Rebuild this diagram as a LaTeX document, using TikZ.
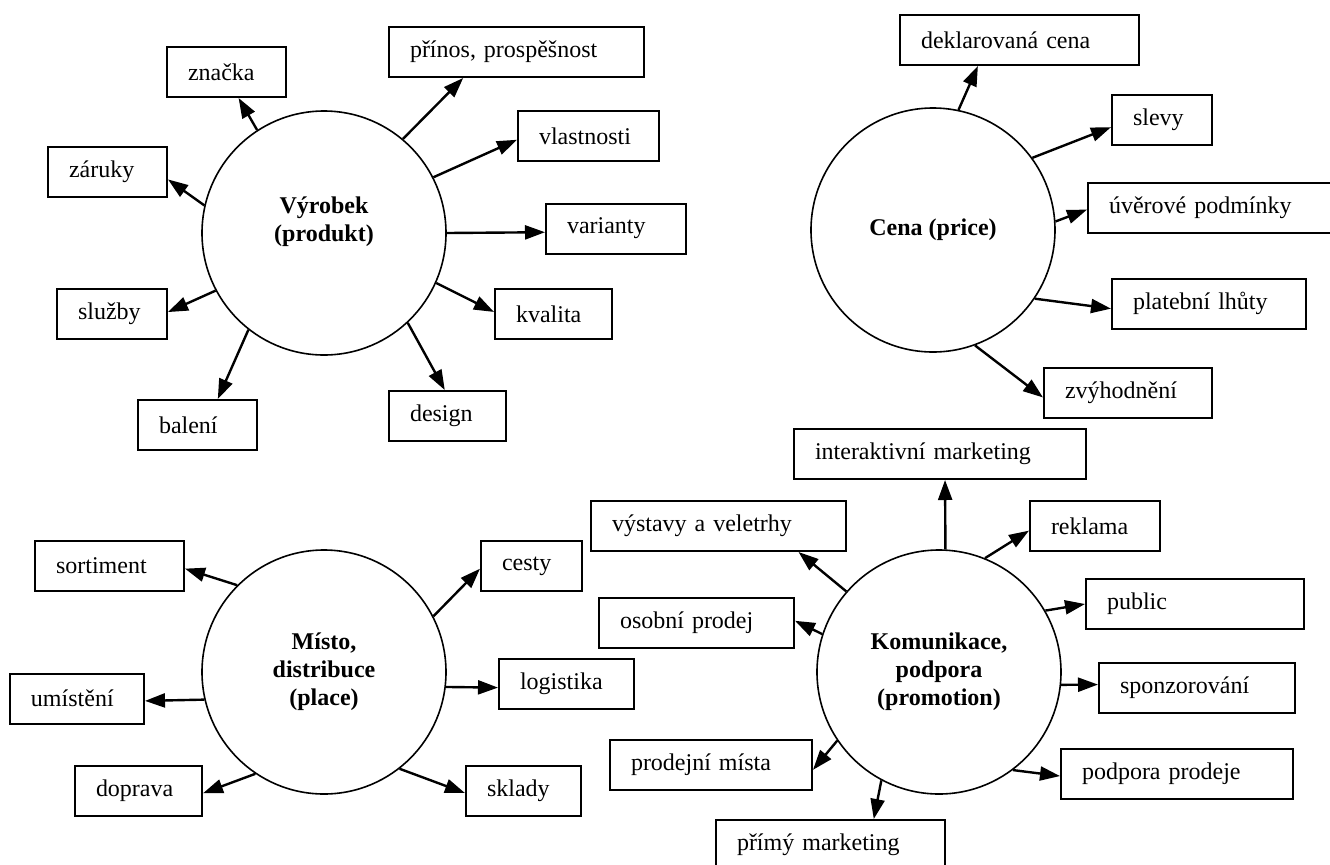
\documentclass[tikz,border=0pt]{standalone}
\usepackage{fontspec}
\setmainfont{Liberation Serif}
\usepackage{tikz}
\usetikzlibrary{arrows.meta}
\tikzset{
    mixnode/.style={circle, draw, line width=0.8pt, minimum size=122pt, inner sep=0pt, align=center, font=\fontsize{12}{14}\selectfont\bfseries},
    mixtext/.style={inner sep=0pt, align=center, font=\fontsize{12}{14}\selectfont\bfseries},
    itemnode/.style={rectangle, draw, line width=1pt, minimum height=25pt, inner xsep=10.5pt, inner ysep=2pt, align=left, font=\fontsize{12}{14}\selectfont},
    mixarrow/.style={-{Triangle[length=10pt, width=7pt]}, line width=1.2pt}
}

\begin{document}
\begin{tikzpicture}[x=0.5pt, y=-0.5pt]
                    \useasboundingbox (0,0) rectangle (1330,864);

                    \node[mixnode] (vyrobek) at (324,233) {};
                    \node[mixtext] (vyrobektext) at (324,222) {Výrobek\\(produkt)};
                    \node[mixnode] (cena) at (933,230) {Cena (price)};
                    \node[mixnode] (misto) at (324,672) {Místo,\\distribuce\\(place)};
                    \node[mixnode] (komunikace) at (939,672) {Komunikace,\\podpora\\(promotion)};

                    \node[itemnode, text width=38.5pt] (znacka) at (226.5,72) {značka};
                    \node[itemnode, text width=106.5pt] (prinos) at (516.5,52) {přínos, prospěšnost};
                    \node[itemnode, text width=49.5pt] (vlastnosti) at (588.5,136) {vlastnosti};
                    \node[itemnode, text width=38.5pt] (zaruky) at (107.5,172) {záruky};
                    \node[itemnode, text width=49pt] (varianty) at (616,228.5) {varianty};
                    \node[itemnode, text width=37.5pt] (kvalita) at (553.5,314) {kvalita};
                    \node[itemnode, text width=34pt] (sluzby) at (112,314) {služby};
                    \node[itemnode, text width=38.5pt] (baleni) at (197.5,425) {balení};
                    \node[itemnode, text width=37.5pt] (design) at (447.5,416) {design};

                    \node[itemnode, text width=98.5pt] (deklarovana) at (1019.5,40) {deklarovaná cena};
                    \node[itemnode, text width=29pt] (slevy) at (1162,120) {slevy};
                    \node[itemnode, text width=101.5pt] (uverove) at (1210.5,207.5) {úvěrové podmínky};
                    \node[itemnode, text width=76pt] (platebni) at (1209,303.5) {platební lhůty};
                    \node[itemnode, text width=63pt] (zvyhodneni) at (1128,393) {zvýhodnění};

                    \node[itemnode, text width=53.5pt] (sortiment) at (109.5,566) {sortiment};
                    \node[itemnode, text width=46pt] (umisteni) at (77,698.5) {umístění};
                    \node[itemnode, text width=42.5pt] (doprava) at (138.5,791) {doprava};
                    \node[itemnode, text width=29.5pt] (cesty) at (531.5,566) {cesty};
                    \node[itemnode, text width=46.5pt] (logistika) at (566.5,684) {logistika};
                    \node[itemnode, text width=36.5pt] (sklady) at (523.5,791) {sklady};

                    \node[itemnode, text width=125pt] (interaktivni) at (940,454) {interaktivní marketing};
                    \node[itemnode, text width=106.5pt] (vystavy) at (718.5,526) {výstavy a veletrhy};
                    \node[itemnode, text width=44pt] (reklama) at (1095,526) {reklama};
                    \node[itemnode, text width=88pt] (public) at (1195,604) {public};
                    \node[itemnode, text width=76.5pt] (osobni) at (696.5,622.5) {osobní prodej};
                    \node[itemnode, text width=77pt] (sponzorovani) at (1197,688) {sponzorování};
                    \node[itemnode, text width=80pt] (prodejni) at (711,764.5) {prodejní místa};
                    \node[itemnode, text width=95pt] (podpora) at (1177,774) {podpora prodeje};
                    \node[itemnode, text width=93.5pt] (primy) at (830.5,845) {přímý marketing};

                    \draw[mixarrow] (vyrobek.123) -- (znacka.-65);
                    \draw[mixarrow] (vyrobek.50) -- (prinos.206);
                    \draw[mixarrow] (vyrobek.27) -- (vlastnosti.183);
                    \draw[mixarrow] (vyrobek.167) -- (zaruky.-7);
                    \draw[mixarrow] (vyrobek.0) -- (varianty.183);
                    \draw[mixarrow] (vyrobek.-24) -- (kvalita.178);
                    \draw[mixarrow] (vyrobek.208) -- (sluzby.2);
                    \draw[mixarrow] (vyrobek.232) -- (baleni.52);
                    \draw[mixarrow] (vyrobek.-47) -- (design.96);

                    \draw[mixarrow] (cena.78) -- (deklarovana.212);
                    \draw[mixarrow] (cena.36) -- (slevy.188);
                    \draw[mixarrow] (cena.4) -- (uverove.181);
                    \draw[mixarrow] (cena.-34) -- (platebni.183);
                    \draw[mixarrow] (cena.-70) -- (zvyhodneni.183);

                    \draw[mixarrow] (misto.135) -- (sortiment.-2);
                    \draw[mixarrow] (misto.193) -- (umisteni.-2);
                    \draw[mixarrow] (misto.236) -- (doprava.-2);
                    \draw[mixarrow] (misto.27) -- (cesty.183);
                    \draw[mixarrow] (misto.-7) -- (logistika.183);
                    \draw[mixarrow] (misto.-52) -- (sklady.182);

                    \draw[mixarrow] (komunikace.87) -- (interaktivni.-79);
                    \draw[mixarrow] (komunikace.139) -- (vystavy.-18);
                    \draw[mixarrow] (komunikace.68) -- (reklama.184);
                    \draw[mixarrow] (komunikace.30) -- (public.180);
                    \draw[mixarrow] (komunikace.162) -- (osobni.1);
                    \draw[mixarrow] (komunikace.-6) -- (sponzorovani.178);
                    \draw[mixarrow] (komunikace.214) -- (prodejni.-3);
                    \draw[mixarrow] (komunikace.-53) -- (podpora.181);
                    \draw[mixarrow] (komunikace.242) -- (primy.31);
                \end{tikzpicture}
\end{document}
